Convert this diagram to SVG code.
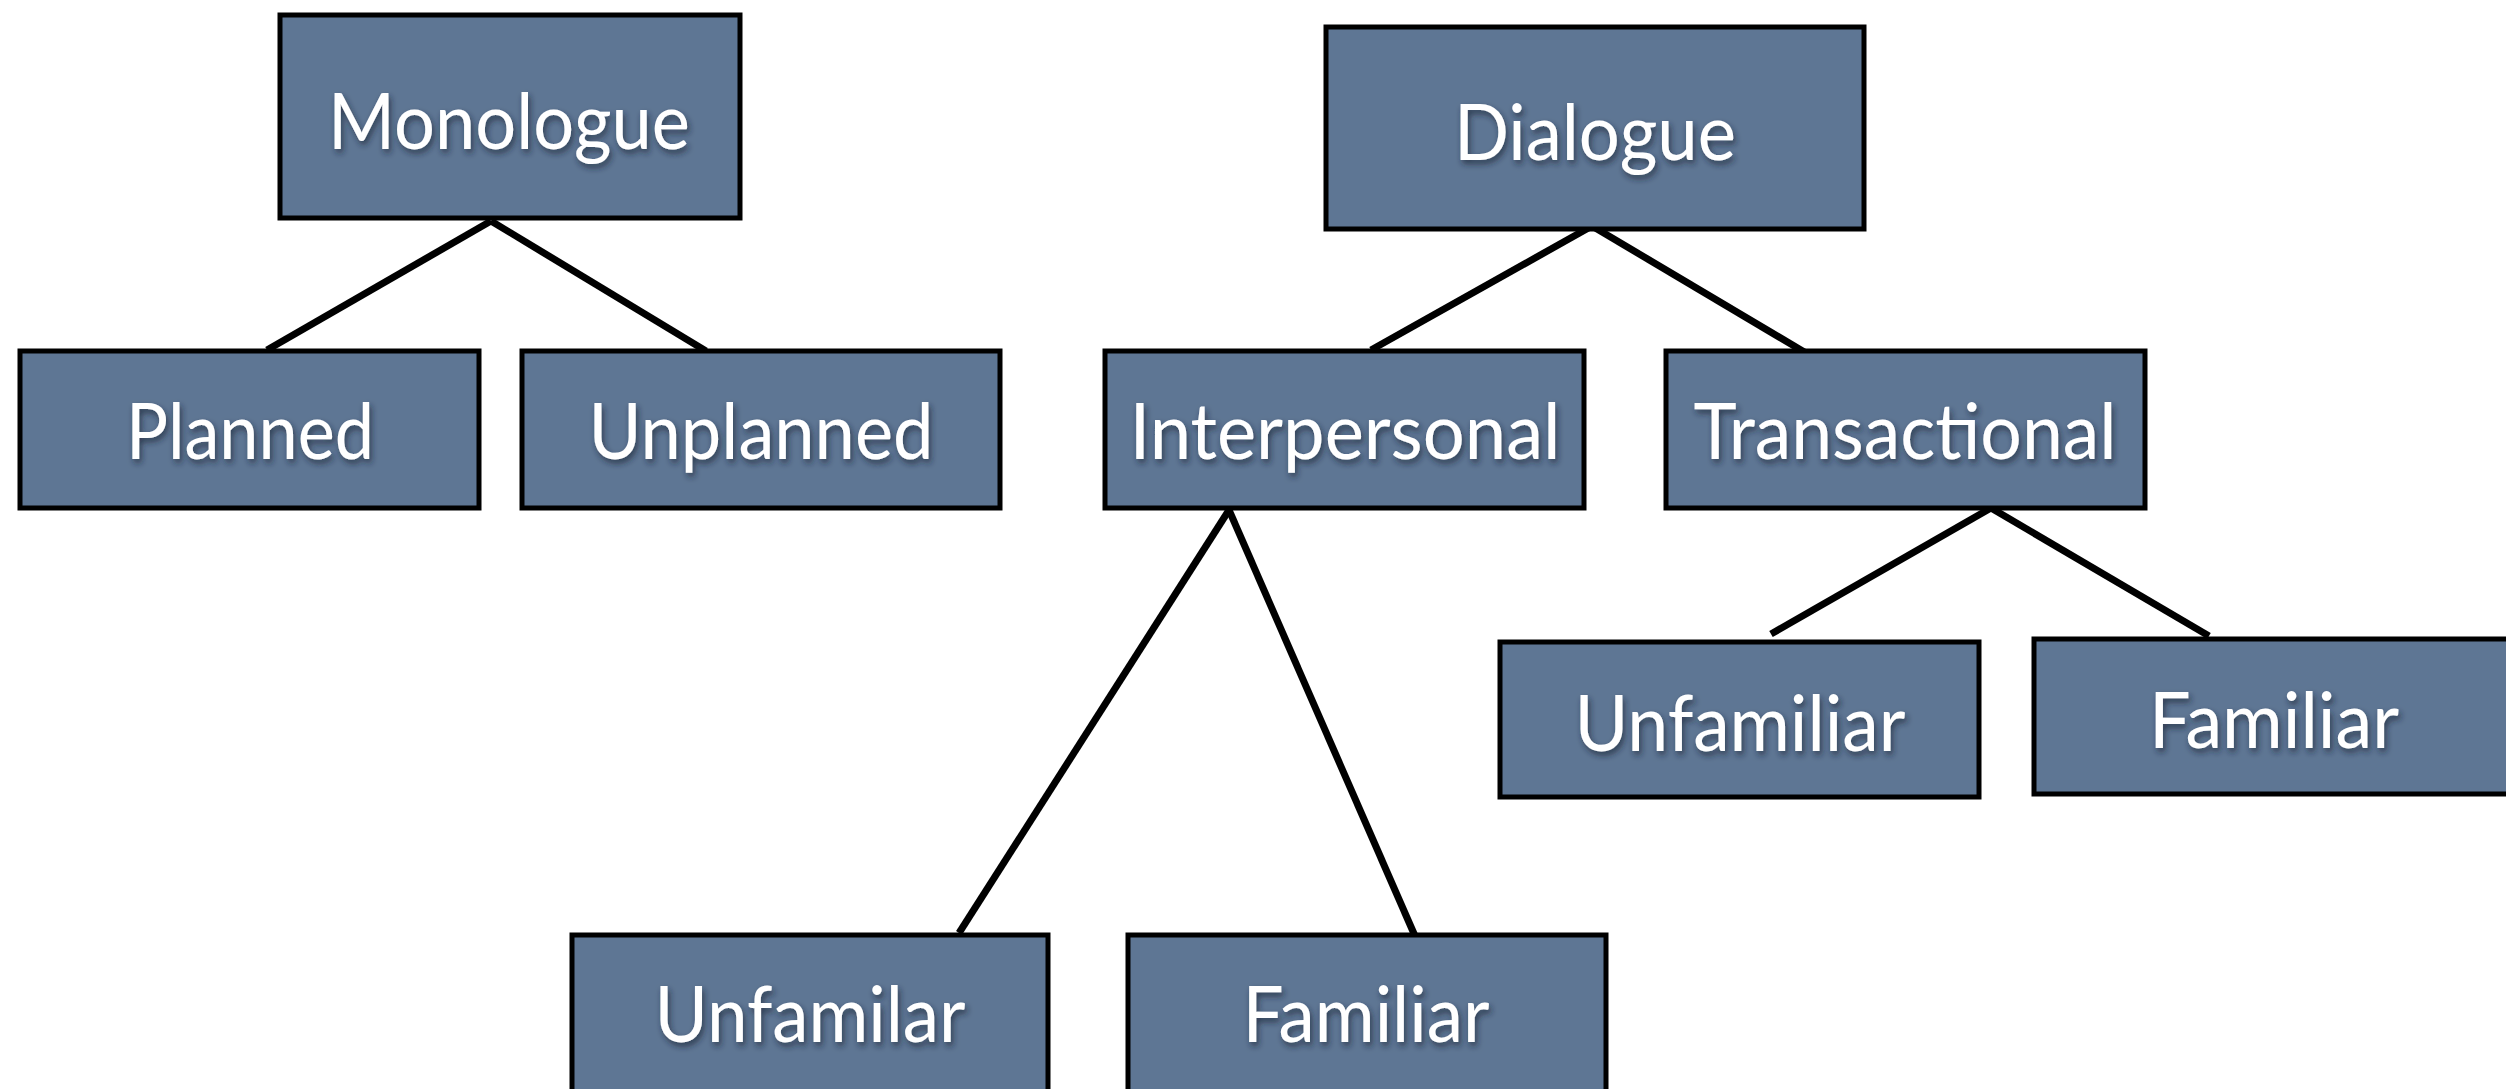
<svg xmlns="http://www.w3.org/2000/svg" width="2506" height="1089" viewBox="0 0 2506 1089">
<defs>
<style>
.box{fill:#5e7694;stroke:#000;stroke-width:5}
.lbl{font-family:Lato,"Open Sans","Liberation Sans",sans-serif;font-size:78px;fill:#fff;text-anchor:middle;filter:url(#ts)}
.con{stroke:#000;stroke-width:7;fill:none}
</style>
<filter id="ts" x="-10%" y="-20%" width="120%" height="150%">
<feDropShadow dx="2" dy="4" stdDeviation="3" flood-color="#1a2433" flood-opacity="0.7"/>
</filter>
</defs>
<rect width="2506" height="1089" fill="#fff"/>
<g id="connectors">
<line class="con" x1="491" y1="221" x2="267" y2="350"/>
<line class="con" x1="491" y1="221" x2="706" y2="351"/>
<line class="con" x1="1592" y1="226" x2="1371" y2="350"/>
<line class="con" x1="1592" y1="226" x2="1806" y2="353"/>
<line class="con" x1="1229" y1="510" x2="959" y2="933"/>
<line class="con" x1="1229" y1="510" x2="1415" y2="936"/>
<line class="con" x1="1991" y1="508" x2="1771" y2="634"/>
<line class="con" x1="1991" y1="508" x2="2209" y2="636"/>
</g>
<g id="monologue"><rect class="box" x="280" y="15" width="460" height="203"/><text class="lbl" x="509" y="149" textLength="362" lengthAdjust="spacingAndGlyphs">Monologue</text></g>
<g id="dialogue"><rect class="box" x="1326" y="27" width="538" height="202"/><text class="lbl" x="1595" y="160" textLength="282" lengthAdjust="spacingAndGlyphs">Dialogue</text></g>
<g id="planned"><rect class="box" x="20" y="351" width="459" height="157"/><text class="lbl" x="250" y="459" textLength="248" lengthAdjust="spacingAndGlyphs">Planned</text></g>
<g id="unplanned"><rect class="box" x="522" y="351" width="478" height="157"/><text class="lbl" x="761" y="459" textLength="345" lengthAdjust="spacingAndGlyphs">Unplanned</text></g>
<g id="interpersonal"><rect class="box" x="1105" y="351" width="479" height="157"/><text class="lbl" x="1345" y="459" textLength="431" lengthAdjust="spacingAndGlyphs">Interpersonal</text></g>
<g id="transactional"><rect class="box" x="1666" y="351" width="479" height="157"/><text class="lbl" x="1905" y="459" textLength="423" lengthAdjust="spacingAndGlyphs">Transactional</text></g>
<g id="unfamiliar-t"><rect class="box" x="1500" y="642" width="479" height="155"/><text class="lbl" x="1740" y="751" textLength="331" lengthAdjust="spacingAndGlyphs">Unfamiliar</text></g>
<g id="familiar-t"><rect class="box" x="2034" y="639" width="480" height="155"/><text class="lbl" x="2274" y="748" textLength="250" lengthAdjust="spacingAndGlyphs">Familiar</text></g>
<g id="unfamilar-i"><rect class="box" x="572" y="935" width="476" height="170"/><text class="lbl" x="810" y="1042" textLength="311" lengthAdjust="spacingAndGlyphs">Unfamilar</text></g>
<g id="familiar-i"><rect class="box" x="1128" y="935" width="478" height="170"/><text class="lbl" x="1366" y="1042" textLength="247" lengthAdjust="spacingAndGlyphs">Familiar</text></g>
</svg>
